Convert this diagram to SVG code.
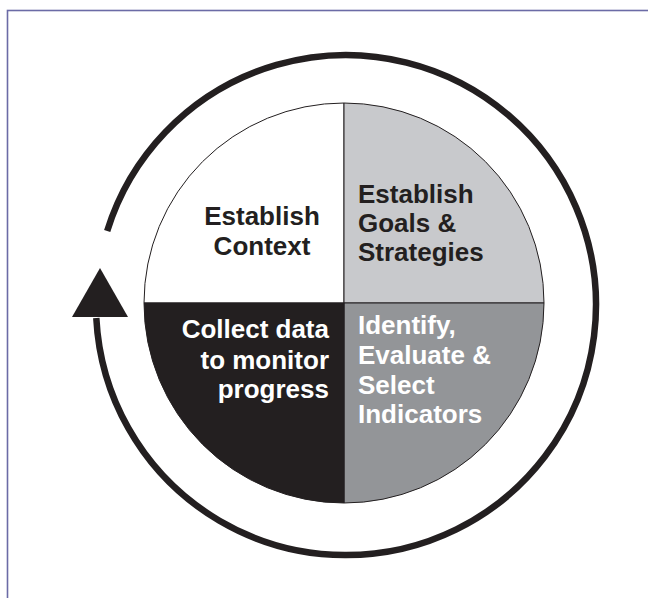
<svg xmlns="http://www.w3.org/2000/svg" width="648" height="598" viewBox="0 0 648 598">
  <style>
    .lbl { font-family: "Liberation Sans", Arial, sans-serif; font-weight: bold; font-size: 26px; }
    .dark { fill: #231f20; }
    .light { fill: #ffffff; }
    .edge { stroke: #231f20; stroke-width: 1; }
  </style>
  <rect x="0" y="0" width="648" height="598" fill="#ffffff"/>
  <rect x="7.5" y="10.5" width="700" height="650" fill="none" stroke="#6b6ba6" stroke-width="1.6"/>

  <g id="connectors">
    <path d="M 96.3 318 A 250 250 0 1 0 107.2 231" fill="none" stroke="#231f20" stroke-width="6.5"/>
    <polygon points="100,268 128,317 72,317" fill="#231f20"/>
  </g>

  <g id="establish-context">
    <path class="edge" d="M344 303 L144 303 A200 200 0 0 1 344 103 Z" fill="#ffffff"/>
    <text class="lbl dark" text-anchor="middle" x="262" y="225">Establish</text>
    <text class="lbl dark" text-anchor="middle" x="262" y="255">Context</text>
  </g>

  <g id="establish-goals">
    <path class="edge" d="M344 303 L344 103 A200 200 0 0 1 544 303 Z" fill="#c8c9cc"/>
    <text class="lbl dark" x="358" y="203">Establish</text>
    <text class="lbl dark" x="358" y="232">Goals &amp;</text>
    <text class="lbl dark" x="358" y="261">Strategies</text>
  </g>

  <g id="identify-indicators">
    <path class="edge" d="M344 303 L544 303 A200 200 0 0 1 344 503 Z" fill="#939598"/>
    <text class="lbl light" x="358" y="334">Identify,</text>
    <text class="lbl light" x="358" y="364">Evaluate &amp;</text>
    <text class="lbl light" x="358" y="394">Select</text>
    <text class="lbl light" x="358" y="423">Indicators</text>
  </g>

  <g id="collect-data">
    <path class="edge" d="M344 303 L344 503 A200 200 0 0 1 144 303 Z" fill="#231f20"/>
    <text class="lbl light" text-anchor="end" x="329" y="338">Collect data</text>
    <text class="lbl light" text-anchor="end" x="329" y="369">to monitor</text>
    <text class="lbl light" text-anchor="end" x="329" y="398">progress</text>
  </g>
</svg>
